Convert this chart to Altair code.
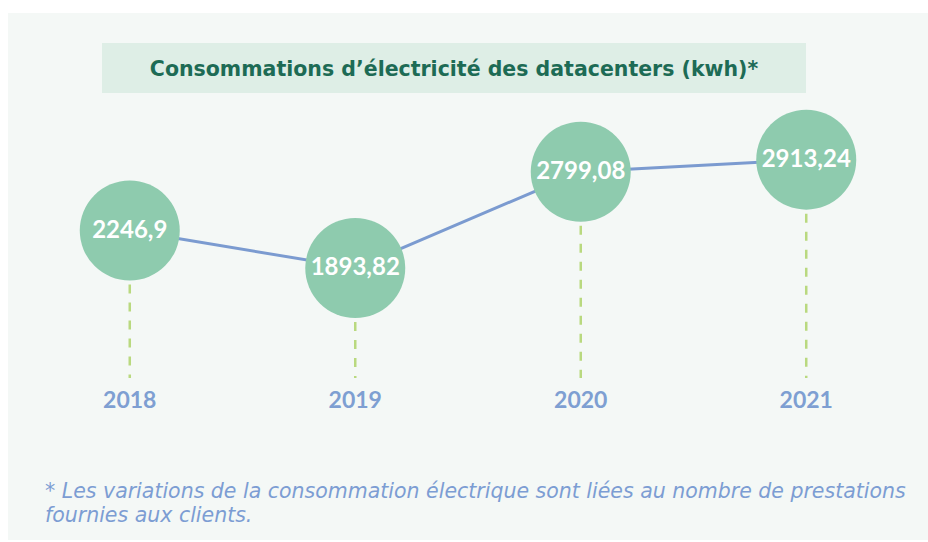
import altair as alt
import pandas as pd

years = [2018, 2019, 2020, 2021]
values = [2246.9, 1893.82, 2799.08, 2913.24]
value_labels = ["2246,9", "1893,82", "2799,08", "2913,24"]
title_text = ["Consommations d’électricité des datacenters (kwh)*"]
note_lines = [
    "* Les variations de la consommation électrique sont liées au nombre de prestations",
    "fournies aux clients.",
]

df = pd.DataFrame({"year": years, "value": values, "label": value_labels})
tdf = pd.DataFrame({"t": title_text})
ndf = pd.DataFrame({"n": [0]})

FONT = "Lato"
WIDE = "DejaVu Sans"
x = alt.X("year:Q", scale=alt.Scale(domain=[2017.46, 2021.54]), axis=None)
y = alt.Y("value:Q", scale=alt.Scale(domain=[-663, 4292]), axis=None)

base = alt.Chart(df)

stems = base.mark_rule(color="#b9d97f", strokeWidth=2.5, strokeDash=[9, 9]).encode(
    x=x, y=y, y2=alt.value(365)
)
line = base.mark_line(color="#7b9bd0", strokeWidth=3).encode(x=x, y=y)
circles = base.mark_circle(size=10000, color="#8ecbae", opacity=1).encode(x=x, y=y)
labels = base.mark_text(color="white", fontSize=24, fontWeight="bold", font=FONT).encode(
    x=x, y=y, text="label:N"
)
year_labels = base.mark_text(color="#7e9fd2", fontSize=23, fontWeight="bold", font=FONT).encode(
    x=x, y=alt.value(388), text=alt.Text("year:Q", format="d")
)

title_box = alt.Chart(tdf).mark_rect(color="#deeee6").encode(
    x=alt.value(94), x2=alt.value(798), y=alt.value(30), y2=alt.value(80)
)
title = alt.Chart(tdf).mark_text(
    color="#1d6b55", fontSize=20.5, fontWeight="bold", font=WIDE
).encode(x=alt.value(446), y=alt.value(57), text="t:N")

note = alt.Chart(ndf).mark_text(
    align="left", baseline="top", fontStyle="italic", fontSize=20.5, lineHeight=24,
    color="#7c9dd3", font=WIDE, text=note_lines
).encode(x=alt.value(37), y=alt.value(469))

chart = alt.layer(
    title_box, title, stems, line, circles, labels, year_labels, note
).properties(
    width=920,
    height=527,
    autosize="none",
    padding={"left": 8, "top": 13, "right": 0, "bottom": 2},
    background="white",
).configure_view(fill="#f4f8f6", strokeWidth=0)

chart.save("out.html", embed_options={"renderer": "svg", "actions": False})
